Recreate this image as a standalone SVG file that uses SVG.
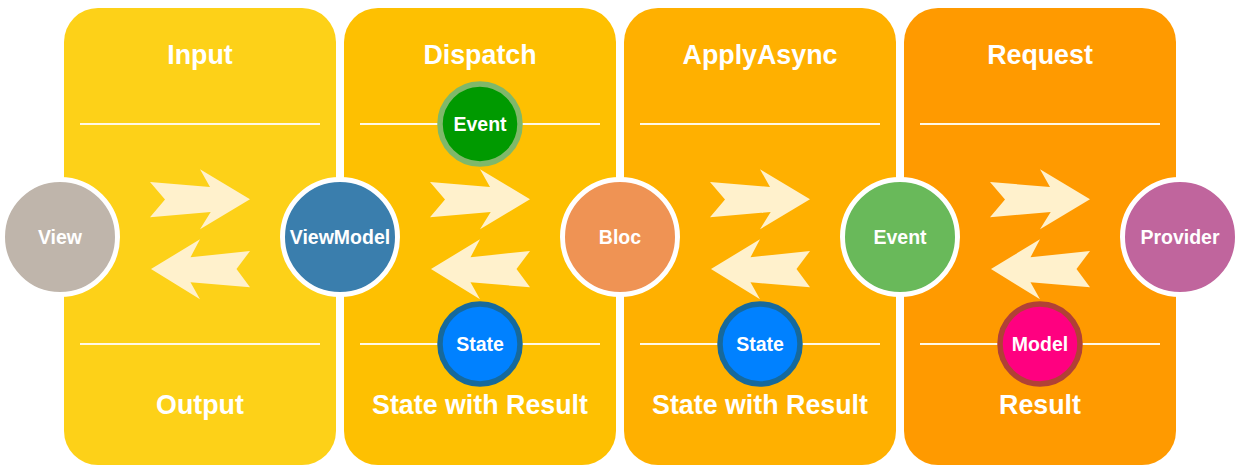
<svg xmlns="http://www.w3.org/2000/svg" xmlns:xlink="http://www.w3.org/1999/xlink" width="1241" height="473" viewBox="0 0 1241 473">
  <style>
    .title { font-family: "Liberation Sans", Arial, Helvetica, sans-serif; font-weight: bold; font-size: 26.8px; fill: #ffffff; text-anchor: middle; }
    .label { font-family: "Liberation Sans", Arial, Helvetica, sans-serif; font-weight: bold; font-size: 19.5px; fill: #ffffff; text-anchor: middle; }
    .sep { stroke: #fff8e6; stroke-width: 2; }
    .big { stroke: #ffffff; stroke-width: 5; }
    .small { stroke-width: 5.5; }
    .arrow { fill: #fff1cc; }
  </style>
  <defs>
    <path id="arrowR" class="arrow" d="M150,182 L210,187 L200,169.3 L250,199.3 L200,229.3 L210.7,212 L150,217.3 L165,199.5 Z"/>
    <path id="arrowL" class="arrow" d="M151,269 L200,239.3 L190.5,257.3 L250,251 L236.5,269 L250,287.3 L190.5,282.3 L200,299.3 Z"/>
  </defs>
  <rect width="1241" height="473" fill="#ffffff"/>

  <!-- Panels -->
  <g id="panel-input">
    <rect x="64" y="8" width="272" height="457" rx="34" ry="34" fill="#fdd118"/>
    <text class="title" x="200" y="64">Input</text>
    <line class="sep" x1="80" y1="124" x2="320" y2="124"/>
    <line class="sep" x1="80" y1="344" x2="320" y2="344"/>
    <text class="title" x="200" y="413.5">Output</text>
  </g>
  <g id="panel-dispatch">
    <rect x="344" y="8" width="272" height="457" rx="34" ry="34" fill="#fec001"/>
    <text class="title" x="480" y="64">Dispatch</text>
    <line class="sep" x1="360" y1="124" x2="600" y2="124"/>
    <line class="sep" x1="360" y1="344" x2="600" y2="344"/>
    <text class="title" x="480" y="413.5">State with Result</text>
  </g>
  <g id="panel-applyasync">
    <rect x="624" y="8" width="272" height="457" rx="34" ry="34" fill="#ffb000"/>
    <text class="title" x="760" y="64">ApplyAsync</text>
    <line class="sep" x1="640" y1="124" x2="880" y2="124"/>
    <line class="sep" x1="640" y1="344" x2="880" y2="344"/>
    <text class="title" x="760" y="413.5">State with Result</text>
  </g>
  <g id="panel-request">
    <rect x="904" y="8" width="272" height="457" rx="34" ry="34" fill="#ff9a00"/>
    <text class="title" x="1040" y="64">Request</text>
    <line class="sep" x1="920" y1="124" x2="1160" y2="124"/>
    <line class="sep" x1="920" y1="344" x2="1160" y2="344"/>
    <text class="title" x="1040" y="413.5">Result</text>
  </g>

  <!-- Connectors (arrows) -->
  <g id="connectors">
    <use xlink:href="#arrowR" href="#arrowR"/>
    <use xlink:href="#arrowL" href="#arrowL"/>
    <use xlink:href="#arrowR" href="#arrowR" transform="translate(280,0)"/>
    <use xlink:href="#arrowL" href="#arrowL" transform="translate(280,0)"/>
    <use xlink:href="#arrowR" href="#arrowR" transform="translate(560,0)"/>
    <use xlink:href="#arrowL" href="#arrowL" transform="translate(560,0)"/>
    <use xlink:href="#arrowR" href="#arrowR" transform="translate(840,0)"/>
    <use xlink:href="#arrowL" href="#arrowL" transform="translate(840,0)"/>
  </g>

  <!-- Main nodes -->
  <g id="node-view">
    <circle class="big" cx="60" cy="237" r="57.5" fill="#bfb5ab"/>
    <text class="label" x="60" y="244">View</text>
  </g>
  <g id="node-viewmodel">
    <circle class="big" cx="340" cy="237" r="57.5" fill="#3a7ead"/>
    <text class="label" x="340" y="244">ViewModel</text>
  </g>
  <g id="node-bloc">
    <circle class="big" cx="620" cy="237" r="57.5" fill="#ef9354"/>
    <text class="label" x="620" y="244">Bloc</text>
  </g>
  <g id="node-event-main">
    <circle class="big" cx="900" cy="237" r="57.5" fill="#69b95a"/>
    <text class="label" x="900" y="244">Event</text>
  </g>
  <g id="node-provider">
    <circle class="big" cx="1180" cy="237" r="57.5" fill="#c0659d"/>
    <text class="label" x="1180" y="244">Provider</text>
  </g>

  <!-- Small nodes -->
  <g id="node-event-dispatch">
    <circle class="small" cx="480" cy="124" r="40" fill="#009a00" stroke="#7fb86a"/>
    <text class="label" x="480" y="131">Event</text>
  </g>
  <g id="node-state-dispatch">
    <circle class="small" cx="480" cy="344" r="40" fill="#0081ff" stroke="#16699c"/>
    <text class="label" x="480" y="351">State</text>
  </g>
  <g id="node-state-applyasync">
    <circle class="small" cx="760" cy="344" r="40" fill="#0081ff" stroke="#16699c"/>
    <text class="label" x="760" y="351">State</text>
  </g>
  <g id="node-model">
    <circle class="small" cx="1040" cy="344" r="40" fill="#ff0080" stroke="#b04136"/>
    <text class="label" x="1040" y="351">Model</text>
  </g>
</svg>
